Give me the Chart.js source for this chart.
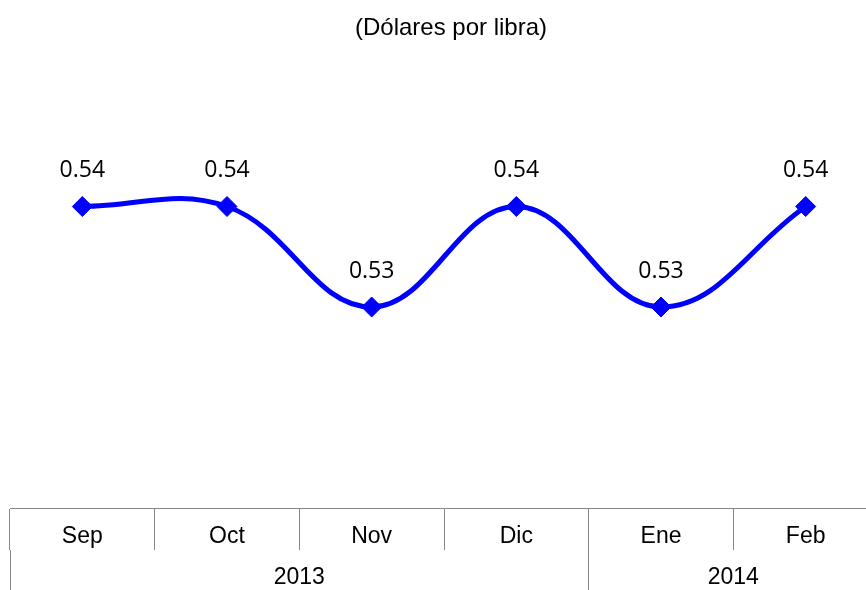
<!DOCTYPE html>
<html>
<head>
<meta charset="utf-8">
<script src="https://cdn.jsdelivr.net/npm/chart.js@4/dist/chart.umd.min.js"></script>
<style>
  html, body { margin: 0; padding: 0; background: #fff; overflow: hidden; }
  /* plot runs past the right edge in the original, so clip a wider canvas */
  #wrap { width: 866px; height: 590px; overflow: hidden; }
  canvas { display: block; }
</style>
</head>
<body>
<div id="wrap"><canvas id="lineChart" width="878" height="590"></canvas></div>
<script>
// * data
const months = ["Sep", "Oct", "Nov", "Dic", "Ene", "Feb"];
const prices = [0.54, 0.54, 0.53, 0.54, 0.53, 0.54];
const years = ["2013", "2014"];
const yearStarts = [0, 4]; // index of first month of each year
const title = "(Dólares por libra)";

const axisGray = "#868686";
const textFont = "'Liberation Sans', Arial";

// year row ticks: boundaries + centers
const yearBounds = [...yearStarts, months.length];
const yearCenters = years.map((y, i) => (yearBounds[i] + yearBounds[i + 1]) / 2);

// * title (sits a bit right of centre in the original)
const titleText = {
  id: "titleText",
  afterDraw(chart) {
    const ctx = chart.ctx;
    const area = chart.chartArea;
    ctx.save();
    ctx.font = `24px ${textFont}`;
    ctx.fillStyle = "#000";
    ctx.textAlign = "center";
    ctx.textBaseline = "middle";
    ctx.fillText(title, (area.left + area.right) / 2 + 7, 28);
    ctx.restore();
  },
};

// * value labels above the points
const valueLabels = {
  id: "valueLabels",
  afterDatasetsDraw(chart) {
    const ctx = chart.ctx;
    const meta = chart.getDatasetMeta(0);
    ctx.save();
    ctx.font = "23px 'Open Sans'";
    ctx.fillStyle = "#000";
    ctx.textAlign = "center";
    ctx.textBaseline = "middle";
    meta.data.forEach((pt, i) => {
      ctx.fillText(prices[i].toFixed(2), pt.x, pt.y - 36);
    });
    ctx.restore();
  },
};

const config = {
  type: "line",
  data: {
    labels: months,
    datasets: [
      {
        data: prices,
        borderColor: "#0000ff",
        backgroundColor: "#0000ff",
        borderWidth: 5,
        tension: 0.4,
        pointStyle: "rectRot",
        pointRadius: 10,
        pointBorderWidth: 1,
        pointBackgroundColor: "#0000ff",
        pointBorderColor: "#0000ff",
        clip: false,
      },
    ],
  },
  options: {
    responsive: false,
    animation: false,
    layout: { autoPadding: false, padding: { left: 10, right: 0, top: 106, bottom: 0 } },
    plugins: {
      legend: { display: false },
      tooltip: { enabled: false },
      title: { display: false },
    },
    scales: {
      y: { display: false, min: 0.51, max: 0.55 },
      x: {
        position: "bottom",
        offset: true,
        grid: {
          offset: true,
          drawOnChartArea: false,
          drawTicks: true,
          tickLength: 42,
          color: axisGray,
          lineWidth: 1,
        },
        border: { display: true, color: axisGray, width: 1 },
        ticks: {
          color: "#000",
          font: { family: textFont, size: 23 },
          padding: -27,
          maxRotation: 0,
          autoSkip: false,
        },
        afterFit(scale) { scale.height = 42; },
      },
      x2: {
        type: "linear",
        position: "bottom",
        min: 0,
        max: months.length,
        offset: false,
        afterBuildTicks(scale) {
          scale.ticks = [...yearBounds, ...yearCenters].map((v) => ({ value: v }));
        },
        grid: {
          offset: false,
          drawOnChartArea: false,
          drawTicks: true,
          tickLength: 40,
          lineWidth: 1,
          color: (c) => (yearBounds.includes(c.tick.value) ? axisGray : "rgba(0,0,0,0)"),
        },
        border: { display: false },
        ticks: {
          color: "#000",
          font: { family: textFont, size: 23 },
          padding: -26,
          maxRotation: 0,
          autoSkip: false,
          callback: (v) => {
            const i = yearCenters.indexOf(v);
            return i >= 0 ? years[i] : "";
          },
        },
        afterFit(scale) { scale.height = 40; },
      },
    },
  },
  plugins: [valueLabels, titleText],
};

const ctxLine = document.getElementById("lineChart").getContext("2d");
new Chart(ctxLine, config);
</script>
</body>
</html>
